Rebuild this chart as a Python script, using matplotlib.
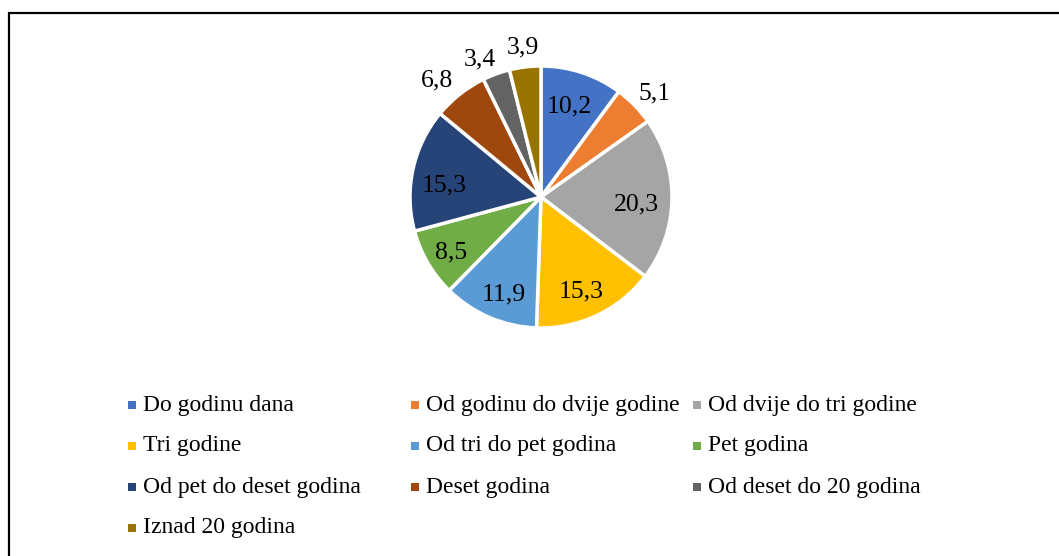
import matplotlib
matplotlib.use("Agg")
import matplotlib.pyplot as plt
from matplotlib.patches import Rectangle
import numpy as np

categories = ["Do godinu dana", "Od godinu do dvije godine", "Od dvije do tri godine",
              "Tri godine", "Od tri do pet godina", "Pet godina",
              "Od pet do deset godina", "Deset godina", "Od deset do 20 godina",
              "Iznad 20 godina"]
values = [10.2, 5.1, 20.3, 15.3, 11.9, 8.5, 15.3, 6.8, 3.4, 3.9]
value_labels = ["10,2", "5,1", "20,3", "15,3", "11,9", "8,5", "15,3", "6,8", "3,4", "3,9"]
outside = [False, True, False, False, False, False, False, True, True, True]
colors = ["#4472C4", "#ED7D31", "#A5A5A5", "#FFC000", "#5B9BD5", "#70AD47",
          "#264478", "#9E480E", "#636363", "#997300"]

# layout nudges for value labels (pixels, x right / y down)
label_nudge = [(-2, 0), (3, 5), (0, 6), (-1, 8), (0, 10), (-7, 7), (-3, 9), (-8, 5), (-8, 8), (1, 4)]

plt.rcParams['font.family'] = ['Liberation Serif', 'DejaVu Serif']

W, H = 1059, 556
fig = plt.figure(figsize=(W / 100, H / 100), dpi=100)

# frame border
fig.add_artist(Rectangle((8.5 / W, -0.1), 1.2, (H - 12.5) / H + 0.1, transform=fig.transFigure,
                         fill=False, edgecolor="black", linewidth=1.6))

cx, cy, r = 541, 197, 131
ax = fig.add_axes([(cx - r) / W, (H - cy - r) / H, 2 * r / W, 2 * r / H])
wedges, _ = ax.pie(values, colors=colors, startangle=90, counterclock=False,
                   wedgeprops=dict(edgecolor="white", linewidth=2.5), radius=1)
ax.set_xlim(-1, 1)
ax.set_ylim(-1, 1)
ax.set_aspect('equal')
ax.axis('off')

for w, lab, out, (nx, ny) in zip(wedges, value_labels, outside, label_nudge):
    ang = np.deg2rad((w.theta1 + w.theta2) / 2)
    d = 1.18 if out else 0.73
    x = d * np.cos(ang) + nx / r
    y = d * np.sin(ang) - ny / r
    ax.text(x, y, lab, ha='center', va='center',
            fontsize=18.5, color='black', clip_on=False)

# legend
col_x = [128, 411, 693]
row_y = [405, 446, 487, 528]
for i, (cat, col) in enumerate(zip(categories, colors)):
    cidx, ridx = i % 3, i // 3
    x, y = col_x[cidx], row_y[ridx]
    fig.add_artist(Rectangle((x / W, (H - y - 4) / H), 8 / W, 8 / H,
                             transform=fig.transFigure, facecolor=col, edgecolor='none'))
    fig.text((x + 15) / W, (H - y) / H, cat, ha='left', va='center', fontsize=17, color='black')

fig.savefig("out.png", dpi=100)
